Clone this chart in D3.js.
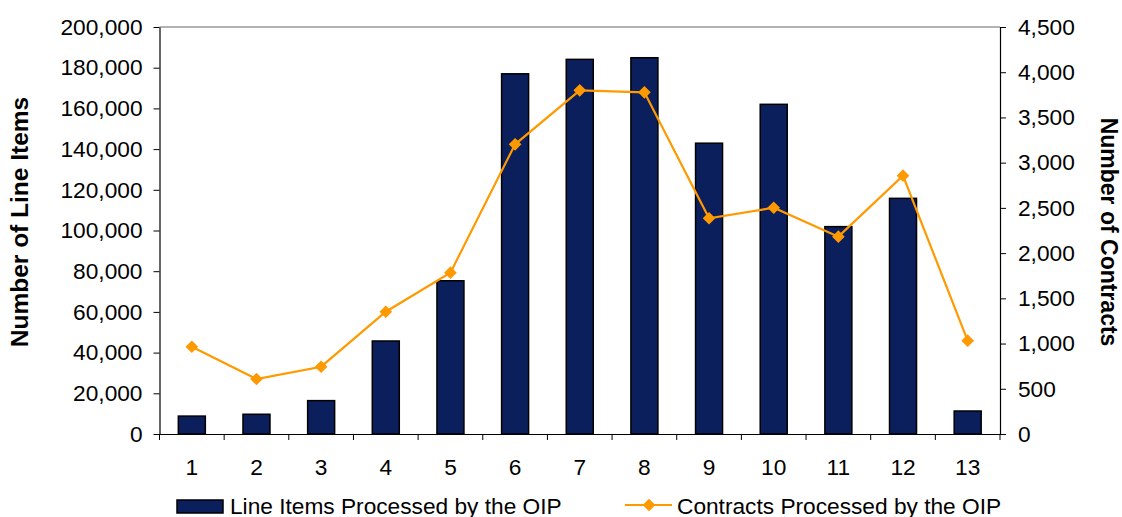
<!DOCTYPE html>
<html>
<head>
<meta charset="utf-8">
<script src="https://cdn.jsdelivr.net/npm/d3@7"></script>
<style>
  body { margin: 0; background: #fff; }
  svg text { font-family: Arial, "Liberation Sans", sans-serif; fill: #000; }
  .axtitle { font-weight: bold; }
  .legend { font-size: 22.7px; }
</style>
</head>
<body>
<svg width="1122" height="517"></svg>
<script>
// data
var periods = ["1","2","3","4","5","6","7","8","9","10","11","12","13"];
var lineItems = [8800, 9700, 16400, 45700, 75300, 177000, 184100, 184900, 142900, 162000, 101900, 115800, 11300];
var contracts = [965, 608, 744, 1352, 1784, 3203, 3800, 3778, 2385, 2502, 2182, 2856, 1032];
var leftTicks = [0, 20000, 40000, 60000, 80000, 100000, 120000, 140000, 160000, 180000, 200000];
var rightTicks = [0, 500, 1000, 1500, 2000, 2500, 3000, 3500, 4000, 4500];

var svg = d3.select("svg");
var plotL = 159.5, plotR = 1000, plotT = 27, plotB = 434;

var x = d3.scaleBand().domain(periods).range([plotL, plotR]).paddingInner(0).paddingOuter(0);
var yL = d3.scaleLinear().domain([0, 200000]).range([plotB, plotT]);
var yR = d3.scaleLinear().domain([0, 4500]).range([plotB, plotT]);
var fmt = d3.format(",");

// plot area top border
svg.append("line")
    .attr("x1", plotL).attr("x2", plotR).attr("y1", plotT).attr("y2", plotT)
    .attr("stroke", "#999").attr("stroke-width", 1.5);

// bars
var barW = 27;
svg.append("g").selectAll("rect")
    .data(lineItems)
    .enter()
    .append("rect")
    .attr("x", function(d, i) { return x(periods[i]) + x.bandwidth() / 2 - barW / 2; })
    .attr("y", function(d) { return yL(d); })
    .attr("width", barW)
    .attr("height", function(d) { return plotB - yL(d); })
    .attr("fill", "#0b1f5c")
    .attr("stroke", "#000")
    .attr("stroke-width", 1.5);

// axes
var gL = svg.append("g").attr("transform", "translate(" + plotL + ",0)")
    .call(d3.axisLeft(yL).tickValues(leftTicks).tickFormat(fmt).tickSizeInner(6).tickSizeOuter(0).tickPadding(11));
var gR = svg.append("g").attr("transform", "translate(" + plotR + ",0)")
    .call(d3.axisRight(yR).tickValues(rightTicks).tickFormat(fmt).tickSizeInner(6).tickSizeOuter(0).tickPadding(12));
var gX = svg.append("g").attr("transform", "translate(0," + plotB + ")")
    .call(d3.axisBottom(x).tickSize(0).tickPadding(25));

// x tick marks at band boundaries
gX.selectAll(".bound")
    .data(periods.concat([""]))
    .enter()
    .append("line")
    .attr("class", "bound")
    .attr("x1", function(d, i) { return plotL + i * x.step(); })
    .attr("x2", function(d, i) { return plotL + i * x.step(); })
    .attr("y1", 0).attr("y2", 6)
    .attr("stroke", "#000");

[gL, gR, gX].forEach(function(g) {
  g.selectAll(".domain").attr("stroke", "#000").attr("stroke-width", 1.2);
  g.selectAll(".tick line").attr("stroke", "#000");
  g.selectAll("text").attr("font-size", 22.7).attr("font-family", "Arial, 'Liberation Sans', sans-serif");
});

// line
var line = d3.line()
    .x(function(d, i) { return x(periods[i]) + x.bandwidth() / 2; })
    .y(function(d) { return yR(d); });

svg.append("path")
    .datum(contracts)
    .attr("d", line)
    .attr("fill", "none")
    .attr("stroke", "#ff9900")
    .attr("stroke-width", 2.2);

var diamond = d3.symbol().type(d3.symbolSquare).size(80);
svg.append("g").selectAll("path")
    .data(contracts)
    .enter()
    .append("path")
    .attr("d", diamond)
    .attr("transform", function(d, i) {
      return "translate(" + (x(periods[i]) + x.bandwidth() / 2) + "," + yR(d) + ") rotate(45)";
    })
    .attr("fill", "#ff9900");

// axis titles
svg.append("text")
    .attr("class", "axtitle")
    .attr("font-size", 24.5)
    .attr("transform", "translate(28,222) rotate(-90)")
    .attr("text-anchor", "middle")
    .text("Number of Line Items");

svg.append("text")
    .attr("class", "axtitle")
    .attr("font-size", 23)
    .attr("transform", "translate(1101,232) rotate(90)")
    .attr("text-anchor", "middle")
    .text("Number of Contracts");

// legend
var lg = svg.append("g");
lg.append("rect")
    .attr("x", 177).attr("y", 500).attr("width", 46).attr("height", 13)
    .attr("fill", "#0b1f5c").attr("stroke", "#000").attr("stroke-width", 1.5);
lg.append("text").attr("class", "legend").attr("x", 230).attr("y", 514)
    .text("Line Items Processed by the OIP");
lg.append("line")
    .attr("x1", 625).attr("x2", 672).attr("y1", 505).attr("y2", 505)
    .attr("stroke", "#ff9900").attr("stroke-width", 2.2);
lg.append("path")
    .attr("d", diamond)
    .attr("transform", "translate(649,505) rotate(45)")
    .attr("fill", "#ff9900");
lg.append("text").attr("class", "legend").attr("x", 677).attr("y", 514)
    .text("Contracts Processed by the OIP");
</script>
</body>
</html>
